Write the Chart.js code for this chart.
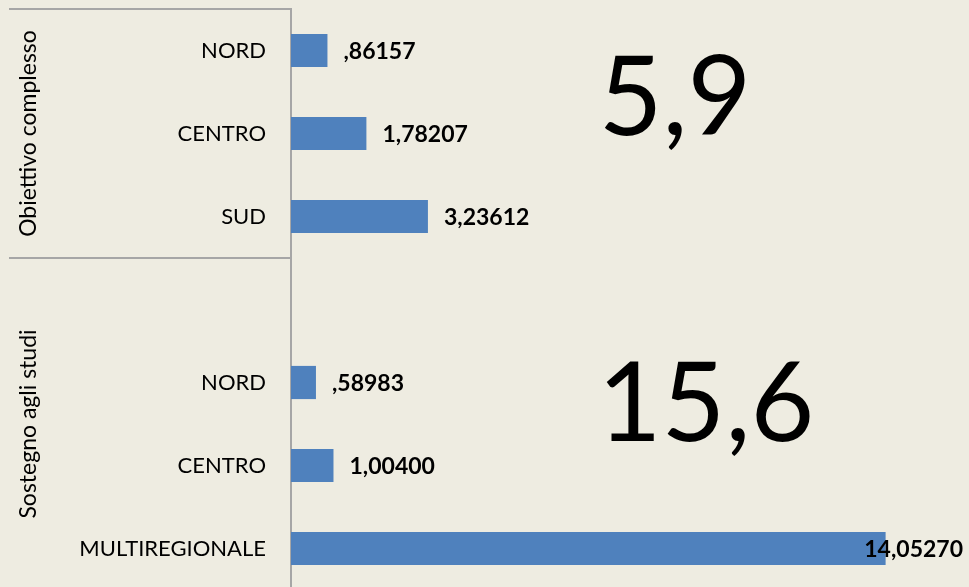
<!DOCTYPE html>
<html>
<head>
<meta charset="utf-8">
<script src="https://cdn.jsdelivr.net/npm/chart.js@4.4.1/dist/chart.umd.min.js"></script>
<style>
  html, body { margin: 0; padding: 0; background: #EEECE1; overflow: hidden; }
  canvas { display: block; }
</style>
</head>
<body>
<canvas id="chart" width="969" height="590"></canvas>
<script>
// categories (empty slot separates the two groups)
const categories = ['NORD', 'CENTRO', 'SUD', '', 'NORD', 'CENTRO', 'MULTIREGIONALE'];
const values = [0.86157, 1.78207, 3.23612, null, 0.58983, 1.00400, 14.05270];
const groupNames = ['Obiettivo complesso', 'Sostegno agli studi'];
const groupStart = [0, 3];
const groupEnd = [2, 6];
const totals = ['5,9', '15,6'];

const FONT = 'Lato, "Open Sans", sans-serif';
const LINE = '#A6A6A6';

function fmt(v) {
    return v.toFixed(5).replace('.', ',').replace(/^0/, '');
}

const decorPlugin = {
    id: 'decor',
    afterDraw(chart) {
        const ctx = chart.ctx;
        const area = chart.chartArea;
        const y = chart.scales.y;
        const step = y.getPixelForValue(1) - y.getPixelForValue(0);

        // group separators and titles
        ctx.save();
        ctx.strokeStyle = LINE;
        ctx.lineWidth = 2;
        groupStart.forEach((s, g) => {
            const top = y.getPixelForValue(s) - step / 2;
            const bottom = y.getPixelForValue(groupEnd[g]) + step / 2;
            ctx.beginPath();
            ctx.moveTo(9, top);
            ctx.lineTo(area.left, top);
            ctx.stroke();
            ctx.save();
            ctx.translate(29, (top + bottom) / 2);
            ctx.rotate(-Math.PI / 2);
            ctx.fillStyle = '#000';
            ctx.font = '23px ' + FONT;
            ctx.textAlign = 'center';
            ctx.textBaseline = 'middle';
            ctx.fillText(groupNames[g], 0, 0);
            ctx.restore();
        });

        // value labels
        ctx.font = 'bold 23px ' + FONT;
        ctx.fillStyle = '#000';
        ctx.textBaseline = 'middle';
        ctx.textAlign = 'left';
        chart.getDatasetMeta(0).data.forEach((bar, i) => {
            if (values[i] === null) return;
            const txt = fmt(values[i]);
            const w = ctx.measureText(txt).width;
            let x = bar.x + 16;
            if (x + w > area.right - 5) x = area.right - 5 - w;
            ctx.fillText(txt, x, bar.y + 1);
        });

        // group totals
        ctx.font = '110px ' + FONT;
        ctx.textAlign = 'center';
        ctx.textBaseline = 'alphabetic';
        ctx.fillText(totals[0], 675, 135);
        ctx.fillText(totals[1], 706, 441);
        ctx.restore();
    }
};

new Chart(document.getElementById('chart'), {
    type: 'bar',
    data: {
        labels: categories,
        datasets: [{
            data: values,
            backgroundColor: '#4F81BD',
            borderWidth: 0,
            barPercentage: 0.4,
            categoryPercentage: 1.0
        }]
    },
    options: {
        indexAxis: 'y',
        responsive: false,
        maintainAspectRatio: false,
        animation: false,
        layout: { padding: { top: 9, right: 1, bottom: 0, left: 0 } },
        plugins: {
            legend: { display: false },
            tooltip: { enabled: false }
        },
        scales: {
            x: {
                display: false,
                min: 0,
                max: 16
            },
            y: {
                afterFit(scale) {
                    scale.width = 291;
                    scale.paddingTop = 0;
                    scale.paddingBottom = 0;
                },
                grid: { display: false, drawTicks: false },
                border: { display: true, color: LINE, width: 2 },
                ticks: {
                    padding: 25,
                    color: '#000',
                    font: { family: FONT, size: 22 }
                }
            }
        }
    },
    plugins: [decorPlugin]
});
</script>
</body>
</html>
